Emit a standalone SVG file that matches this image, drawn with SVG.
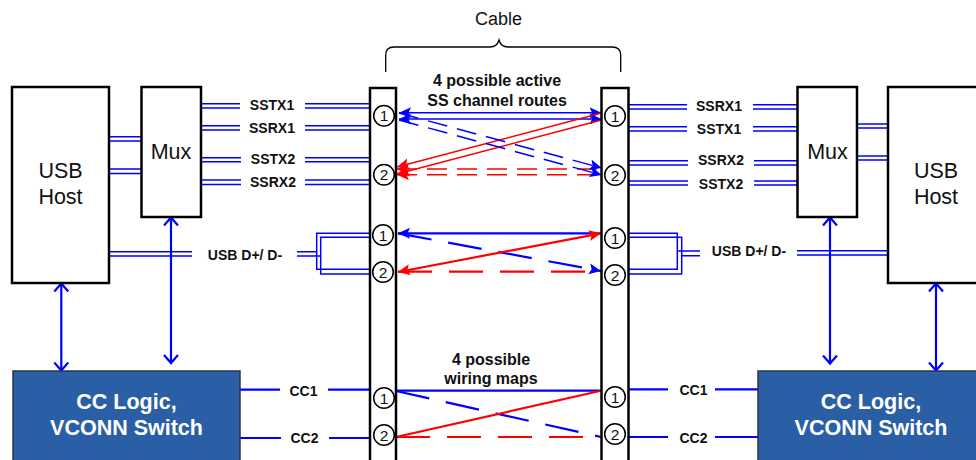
<svg xmlns="http://www.w3.org/2000/svg" width="976" height="460" viewBox="0 0 976 460">
<style>
text{font-family:"Liberation Sans",Arial,sans-serif;fill:#111;text-anchor:middle}
.box{fill:#fff;stroke:#000;stroke-width:2.5}
.cc{fill:#2a5fa6;stroke:#2b3540;stroke-width:1.5}
.pin{fill:#fff;stroke:#000;stroke-width:1.5}
.d{font-size:15.5px}
.big{font-size:21.5px}
.lab{font-size:14px;font-weight:bold}
.cap{font-size:16px;font-weight:bold}
.wt{font-size:21.5px;font-weight:bold;fill:#fff}
.b,.b2{fill:none;stroke:#0000ff;stroke-width:1.5}
.b2{stroke-width:2.2}
.r,.r2{fill:none;stroke:#ff0000;stroke-width:1.5}
.r2{stroke-width:2.2}
.ds{stroke-dasharray:20 10}
.dl{stroke-dasharray:34 17}
.oa{fill:none;stroke:#0000ff;stroke-width:2.2;marker-start:url(#open);marker-end:url(#open)}
</style>
<defs>
<marker id="ab" markerUnits="userSpaceOnUse" markerWidth="14" markerHeight="12" refX="12" refY="5.5" orient="auto-start-reverse"><path d="M0 0L12 5.5L0 11L2.5 5.5Z" fill="#0000ff"/></marker>
<marker id="ar" markerUnits="userSpaceOnUse" markerWidth="14" markerHeight="12" refX="12" refY="5.5" orient="auto-start-reverse"><path d="M0 0L12 5.5L0 11L2.5 5.5Z" fill="#ff0000"/></marker>
<marker id="open" markerUnits="userSpaceOnUse" markerWidth="12" markerHeight="18" refX="9.5" refY="8" orient="auto-start-reverse"><path d="M1 1L9 8L1 15" fill="none" stroke="#0000ff" stroke-width="2.2"/></marker>
</defs>
<text x="498.5" y="25" style="font-size:18px">Cable</text>
<path d="M385.7 72V55Q385.7 47 394 47H490Q497 47 499 40Q501 47 508 47H612Q620.7 47 620.7 55V72" fill="none" stroke="#000" stroke-width="1.3"/>
<g id="connectors">
<path class="b" d="M201 103.7H240M201 108H240M305 103.7H370M305 108H370M201 125.7H240M201 130H240M305 125.7H370M305 130H370M201 157.7H241M201 161.7H241M305 157.7H371M305 161.7H371M201 180H241M201 184.5H241M305 180H371M305 184.5H371"/>
<path class="b" d="M109 136.7H142M109 141H142M109 169H142M109 173.5H142M858 124H888M858 128H888M858 156H888M858 160H888"/>
<path class="b" d="M629 104.7H687M629 109H687M753 104.7H797M753 109H797M629 126.7H687M629 131H687M753 126.7H797M753 131H797M629 160.7H688M629 165H688M754 160.7H797M754 165H797M629 181H688M629 185H688M754 181H797M754 185H797"/>
<path class="b" d="M109 251.7H192M109 256H192M297 251.7H316.7M297 256H320.7M370 233.3H316.7V269.3H370M370 237.3H320.7V274H370"/>
<path class="b" d="M629 233.3H677.3V269.3H629M629 237.3H681.7V274H629M677.3 251H700M681.7 255.7H700M797 250.7H888M797 255H888"/>
<path class="oa" d="M61.3 283V371"/>
<path class="oa" d="M171 217V363.5"/>
<path class="oa" d="M830 217V364"/>
<path class="oa" d="M936 283V371"/>
<path class="b2" d="M240 389.7H280M328 389.7H370M240 438H281M329 438H370M628 389.3H668M715 389.3H758M628 437H668M715 437H758"/>
<path class="b" marker-start="url(#ab)" marker-end="url(#ab)" d="M399 112.7H601.5"/>
<path class="b" marker-start="url(#ab)" marker-end="url(#ab)" d="M399 119H601.5"/>
<path class="r" marker-start="url(#ar)" d="M397 167L601.5 113"/>
<path class="r" marker-start="url(#ar)" d="M397 174L601.5 120"/>
<path class="r ds" marker-start="url(#ar)" d="M397 169H601.5"/>
<path class="r ds" marker-start="url(#ar)" d="M397 174.7H601.5"/>
<path class="b ds" marker-end="url(#ab)" d="M399 113L601.7 168"/>
<path class="b ds" marker-end="url(#ab)" d="M399 120L601.7 175"/>
<path class="b2" marker-start="url(#ab)" d="M398 233.3H601"/>
<path class="b2 dl" marker-end="url(#ab)" d="M398 233.3L601 271"/>
<path class="r2" marker-start="url(#ar)" marker-end="url(#ar)" d="M398 272L601 233.3"/>
<path class="r2 dl" d="M398 271.7H601"/>
<path class="b2" d="M396 390.7H601"/>
<path class="b2 dl" d="M396 391L601 437"/>
<path class="r2" d="M396 437L601 390.7"/>
<path class="r2 dl" d="M396 437H601"/>
</g>
<g id="usb-host-left"><rect class="box" x="12" y="87" width="97" height="196"/><text class="big" x="60.5" y="178">USB</text><text class="big" x="60.5" y="204">Host</text></g>
<g id="mux-left"><rect class="box" x="141.5" y="87" width="59.5" height="130"/><text class="big" x="171" y="159">Mux</text></g>
<g id="usb-host-right"><rect class="box" x="888" y="87" width="100" height="196"/><text class="big" x="936" y="178">USB</text><text class="big" x="936" y="204">Host</text></g>
<g id="mux-right"><rect class="box" x="797.5" y="87" width="59.5" height="130"/><text class="big" x="827.5" y="159">Mux</text></g>
<g id="cc-left"><rect class="cc" x="13" y="371" width="227" height="95"/><text class="wt" x="126.5" y="409">CC Logic,</text><text class="wt" x="126.5" y="435">VCONN Switch</text></g>
<g id="cc-right"><rect class="cc" x="758" y="371" width="225" height="95"/><text class="wt" x="871" y="409">CC Logic,</text><text class="wt" x="871" y="435">VCONN Switch</text></g>
<g id="plug-left"><path class="box" style="fill:none" d="M370 465V88H396V465"/>
<circle class="pin" cx="384" cy="115.7" r="10.3"/><text class="d" x="384" y="121">1</text>
<circle class="pin" cx="384" cy="174.7" r="10.3"/><text class="d" x="384" y="180">2</text>
<circle class="pin" cx="383" cy="235" r="10.3"/><text class="d" x="383" y="240.5">1</text>
<circle class="pin" cx="383" cy="272" r="10.3"/><text class="d" x="383" y="277.5">2</text>
<circle class="pin" cx="384" cy="398" r="10.3"/><text class="d" x="384" y="403.5">1</text>
<circle class="pin" cx="384" cy="435" r="10.3"/><text class="d" x="384" y="440.5">2</text></g>
<g id="plug-right"><path class="box" style="fill:none" d="M601.5 465V88H628.5V465"/>
<circle class="pin" cx="615" cy="116" r="10.3"/><text class="d" x="615" y="121.5">1</text>
<circle class="pin" cx="615" cy="175" r="10.3"/><text class="d" x="615" y="180.5">2</text>
<circle class="pin" cx="615" cy="238" r="10.3"/><text class="d" x="615" y="243.5">1</text>
<circle class="pin" cx="615" cy="275" r="10.3"/><text class="d" x="615" y="280.5">2</text>
<circle class="pin" cx="615" cy="397" r="10.3"/><text class="d" x="615" y="402.5">1</text>
<circle class="pin" cx="615" cy="434" r="10.3"/><text class="d" x="615" y="439.5">2</text></g>
<g id="labels">
<text class="lab" x="272" y="110">SSTX1</text><text class="lab" x="272" y="133">SSRX1</text><text class="lab" x="273" y="164">SSTX2</text><text class="lab" x="273" y="187">SSRX2</text>
<text class="lab" x="719" y="111">SSRX1</text><text class="lab" x="719" y="134">SSTX1</text><text class="lab" x="721" y="165">SSRX2</text><text class="lab" x="721" y="189">SSTX2</text>
<text class="lab" x="245" y="260">USB D+/ D-</text><text class="lab" x="749" y="256">USB D+/ D-</text>
<text class="lab" x="303.5" y="396">CC1</text><text class="lab" x="304.5" y="443">CC2</text><text class="lab" x="693.5" y="395">CC1</text><text class="lab" x="693.5" y="443">CC2</text>
<text class="cap" x="497" y="86">4 possible active</text><text class="cap" x="497" y="106">SS channel routes</text>
<text class="cap" x="491" y="365">4 possible</text><text class="cap" x="491" y="384">wiring maps</text>
</g>
</svg>
